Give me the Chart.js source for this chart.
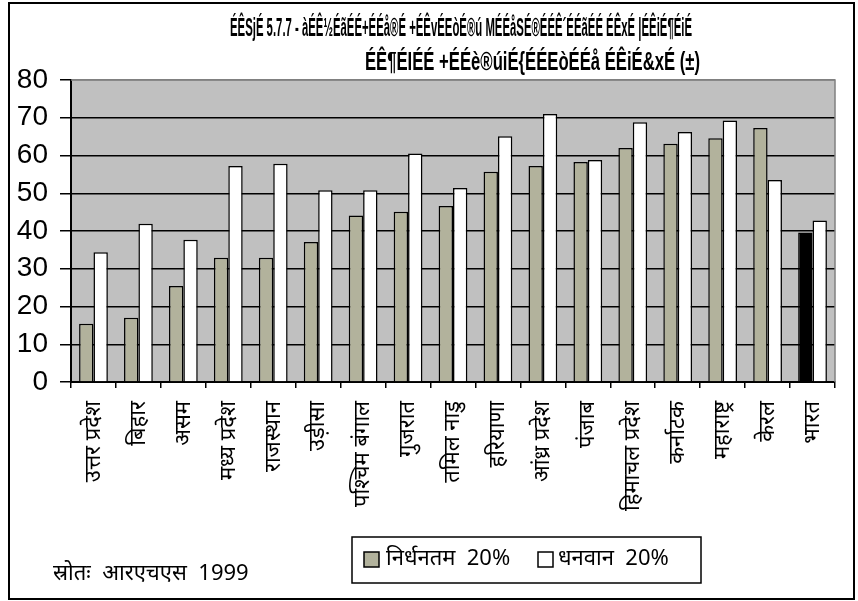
<!DOCTYPE html>
<html>
<head>
<meta charset="utf-8">
<script src="https://cdn.jsdelivr.net/npm/chart.js@4"></script>
<style>
  html, body { margin: 0; padding: 0; background: #fff; }
  #wrap { width: 858px; height: 601px; }
</style>
</head>
<body>
<div id="wrap"><canvas id="chart" width="858" height="601"></canvas></div>
<script>
const states = ['उत्तर प्रदेश', 'बिहार', 'असम', 'मध्य प्रदेश', 'राजस्थान', 'उड़ीसा', 'पश्चिम बंगाल',
  'गुजरात', 'तमिल नाडु', 'हरियाणा', 'आंध्र प्रदेश', 'पंजाब', 'हिमाचल प्रदेश', 'कर्नाटक',
  'महाराष्ट्र', 'केरल', 'भारत'];
const poorest = [15.4, 17.0, 25.4, 32.9, 32.9, 37.1, 44.1, 45.1, 46.6, 55.7, 57.2, 58.3, 62.0, 63.1, 64.6, 67.3, 39.6];
const richest = [34.4, 41.9, 37.7, 57.2, 57.8, 50.8, 50.8, 60.5, 51.4, 65.1, 71.0, 58.8, 68.8, 66.2, 69.3, 53.5, 42.8];
const seriesNames = ['निर्धनतम  20%', 'धनवान  20%'];
const titleLines = [
  'ÉÊSjÉ 5.7.7 - àÉÊ½ÉãÉÉ+ÉÉå®É +ÉÊvÉEòÉ®ú MÉÉåSÉ®ÉÉÊ´ÉÉãÉÉ ÉÊxÉ |ÉÊiÉ¶ÉiÉ',
  'ÉÊ¶ÉIÉÉ +ÉÉè®úiÉ{ÉÉEòÉÉå ÉÊiÉ&xÉ (±)'
];
const sourceNote = 'स्रोतः  आरएचएस  1999';

const greyFill = '#b2b29c';
const poorColors = states.map(s => s === 'भारत' ? '#000000' : greyFill);

const devFont = '"Noto Sans", "Lohit Devanagari", "Mangal", sans-serif';

const decor = {
  id: 'decor',
  beforeDraw(chart) {
    const { ctx, chartArea: a } = chart;
    ctx.save();
    ctx.fillStyle = '#c0c0c0';
    ctx.fillRect(a.left, a.top, a.right - a.left, a.bottom - a.top);
    ctx.restore();
  },
  afterDraw(chart) {
    const { ctx, chartArea: a } = chart;
    ctx.save();
    // plot border (grey top/right)
    ctx.strokeStyle = '#808080';
    ctx.lineWidth = 1.5;
    ctx.beginPath();
    ctx.moveTo(a.left, a.top);
    ctx.lineTo(a.right, a.top);
    ctx.lineTo(a.right, a.bottom);
    ctx.stroke();

    // outer frame
    ctx.strokeStyle = '#000';
    ctx.lineWidth = 2;
    ctx.strokeRect(9, 3, 845, 596);

    // title
    ctx.fillStyle = '#000';
    ctx.font = 'bold 25px "Liberation Sans", Arial, sans-serif';
    ctx.textBaseline = 'middle';
    ctx.textAlign = 'left';
    ctx.fillText(titleLines[0], 230, 29, 462);
    ctx.fillText(titleLines[1], 365, 63, 335);

    // legend
    ctx.lineWidth = 1.5;
    ctx.strokeRect(352, 537, 349, 46);
    const items = [
      { x: 364, tx: 386, fill: greyFill, label: seriesNames[0] },
      { x: 538, tx: 558, fill: '#ffffff', label: seriesNames[1] }
    ];
    ctx.font = '22px ' + devFont;
    items.forEach(it => {
      ctx.fillStyle = it.fill;
      ctx.fillRect(it.x, 552, 15, 15);
      ctx.strokeStyle = '#000';
      ctx.strokeRect(it.x, 552, 15, 15);
      ctx.fillStyle = '#000';
      ctx.fillText(it.label, it.tx, 559);
    });

    // source
    ctx.font = '22px ' + devFont;
    ctx.fillText(sourceNote, 53, 574);
    ctx.restore();
  }
};

new Chart(document.getElementById('chart').getContext('2d'), {
  type: 'bar',
  data: {
    labels: states,
    datasets: [
      {
        label: seriesNames[0],
        data: poorest,
        backgroundColor: poorColors,
        borderColor: '#000',
        borderWidth: 1.5,
        categoryPercentage: 0.64,
        barPercentage: 1.0
      },
      {
        label: seriesNames[1],
        data: richest,
        backgroundColor: '#ffffff',
        borderColor: '#000',
        borderWidth: 1.5,
        categoryPercentage: 0.64,
        barPercentage: 1.0
      }
    ]
  },
  options: {
    responsive: false,
    animation: false,
    layout: { padding: { top: 80, right: 23, bottom: 0, left: 0 } },
    plugins: {
      legend: { display: false },
      title: { display: false },
      tooltip: { enabled: false }
    },
    scales: {
      x: {
        afterFit(scale) { scale.height = 219; },
        grid: { display: true, drawOnChartArea: false, drawTicks: true, tickLength: 6, color: '#000', lineWidth: 1.5, offset: true },
        border: { display: true, color: '#000', width: 2 },
        ticks: {
          minRotation: 90, maxRotation: 90, autoSkip: false, padding: 13,
          color: '#000',
          font: { family: devFont, size: 22 }
        }
      },
      y: {
        min: 0, max: 80,
        afterFit(scale) { scale.width = 71; },
        grid: {
          color: ctx => ctx.tick && ctx.tick.value === 80 ? '#808080' : '#000',
          tickColor: '#000',
          lineWidth: 1.5,
          tickLength: 11
        },
        border: { display: true, color: '#000', width: 2 },
        ticks: {
          stepSize: 10, padding: 12, color: '#000',
          font: { family: '"Liberation Sans", Arial, sans-serif', size: 28 }
        }
      }
    }
  },
  plugins: [decor]
});
</script>
</body>
</html>
